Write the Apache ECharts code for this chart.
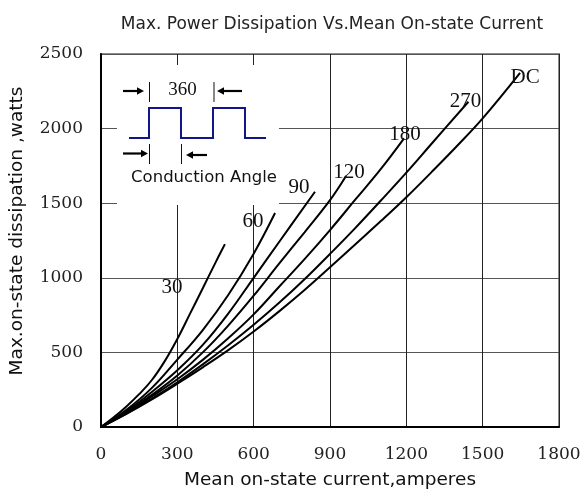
<!DOCTYPE html>
<html>
<head>
<meta charset="utf-8">
<script src="https://cdn.jsdelivr.net/npm/echarts@6/dist/echarts.min.js"></script>
<style>
  html, body { margin: 0; padding: 0; background: #fff; }
  #chart { width: 584px; height: 503px; }
</style>
</head>
<body>
<div id="chart"></div>
<script>
// Axis ticks
const currentTicks = [0, 300, 600, 900, 1200, 1500, 1800];
const powerTicks = [0, 500, 1000, 1500, 2000, 2500];

// Curves: [mean on-state current (A), max dissipation (W)] for each conduction angle
const curve30 = [[0, 0], [50, 65], [100, 138], [150, 220], [200, 315], [250, 440], [300, 590], [350, 760], [400, 930], [450, 1102], [487, 1226]];
const curve60 = [[0, 0], [100, 115], [200, 262], [300, 452], [400, 650], [500, 885], [600, 1162], [684, 1434]];
const curve90 = [[0, 0], [100, 105], [200, 235], [300, 380], [400, 550], [500, 760], [600, 1000], [700, 1240], [841, 1577]];
const curve120 = [[0, 0], [100, 100], [200, 215], [300, 345], [400, 500], [500, 680], [600, 880], [700, 1095], [800, 1305], [900, 1520], [963, 1682]];
const curve180 = [[0, 0], [100, 95], [200, 205], [300, 320], [400, 450], [500, 595], [600, 755], [700, 940], [800, 1125], [900, 1320], [1000, 1525], [1100, 1730], [1191, 1935]];
const curve270 = [[0, 0], [100, 90], [200, 190], [300, 300], [400, 420], [500, 548], [600, 685], [700, 832], [800, 990], [900, 1160], [1000, 1335], [1100, 1518], [1200, 1705], [1300, 1900], [1444, 2180]];
const curveDC = [[0, 0], [100, 88], [200, 185], [300, 290], [400, 400], [500, 515], [600, 640], [700, 775], [800, 918], [900, 1070], [1000, 1225], [1100, 1380], [1200, 1540], [1300, 1710], [1400, 1885], [1500, 2068], [1647, 2373]];

const curveNames = ['30', '60', '90', '120', '180', '270', 'DC'];
const curveData = [curve30, curve60, curve90, curve120, curve180, curve270, curveDC];
// pixel nudge of each curve's tag from the curve end
const tagOffsets = [[-53, 43], [-22, 8], [-16, -4], [3, -4], [1, -4], [-3, 0], [5, 5]];

const serif = 'Liberation Serif, Times New Roman, serif';
const numFont = 'DejaVu Serif, serif';
const sans = 'DejaVu Sans, sans-serif';

const chart = echarts.init(document.getElementById('chart'), null, { renderer: 'canvas' });

const series = curveData.map((pts, i) => ({
  name: curveNames[i],
  type: 'line',
  data: pts,
  showSymbol: false,
  smooth: 0.4,
  lineStyle: { color: '#000', width: 2 },
  z: 3,
  markPoint: {
    symbol: 'circle',
    symbolSize: 1,
    itemStyle: { color: 'rgba(0,0,0,0)' },
    silent: true,
    data: [{
      coord: pts[pts.length - 1],
      label: {
        show: true,
        position: 'inside',
        formatter: curveNames[i],
        offset: tagOffsets[i],
        color: '#111',
        fontFamily: serif,
        fontSize: 21
      }
    }]
  }
}));

// Conduction-angle sketch in the upper-left corner
const navy = '#14148a';
const ink = '#000';
function arrow(x1, x2, y) {
  const dir = x2 > x1 ? 1 : -1;
  const base = x2 - dir * 7;
  return [
    { type: 'line', z: 10, shape: { x1: x1, y1: y, x2: base, y2: y }, style: { stroke: ink, lineWidth: 2.2 } },
    { type: 'polygon', z: 10, shape: { points: [[base, y - 3.8], [x2, y], [base, y + 3.8]] }, style: { fill: ink } }
  ];
}
function tick(x, y1, y2) {
  return { type: 'line', z: 10, shape: { x1: x, y1: y1, x2: x, y2: y2 }, style: { stroke: '#111', lineWidth: 1 } };
}

const sketch = [
  { type: 'rect', z: 9, shape: { x: 117, y: 65, width: 162, height: 140 }, style: { fill: '#fff' } },
  {
    type: 'polyline', z: 10,
    shape: { points: [[129, 138], [149, 138], [149, 108], [181, 108], [181, 138], [213, 138], [213, 108], [245, 108], [245, 138], [266, 138]] },
    style: { stroke: navy, lineWidth: 2, fill: null }
  },
  tick(149.5, 82, 102), tick(214, 82, 102),
  ...arrow(123, 144, 91), ...arrow(242, 217, 91),
  { type: 'text', z: 10, style: { text: '360', x: 182.5, y: 90.5, align: 'center', verticalAlign: 'middle', font: '19px ' + serif, fill: '#111' } },
  tick(149.5, 144, 164), tick(181.5, 144, 164),
  ...arrow(123, 148, 153.5), ...arrow(207, 186, 155),
  { type: 'text', z: 10, style: { text: 'Conduction Angle', x: 204, y: 177.5, align: 'center', verticalAlign: 'middle', font: '16.5px ' + sans, fill: '#111' } }
];

const plain = v => String(v);

chart.setOption({
  animation: false,
  backgroundColor: '#fff',
  title: {
    text: 'Max. Power Dissipation Vs.Mean On-state Current',
    left: 327,
    textAlign: 'center',
    top: 11,
    textStyle: { fontFamily: sans, fontSize: 17, fontWeight: 'normal', color: '#222' }
  },
  grid: {
    left: 101, right: 25, top: 54, bottom: 76,
    show: true, borderColor: '#8c8c8c', borderWidth: 2, backgroundColor: 'transparent'
  },
  xAxis: {
    type: 'value',
    min: currentTicks[0],
    max: currentTicks[currentTicks.length - 1],
    interval: currentTicks[1] - currentTicks[0],
    name: 'Mean on-state current,amperes',
    nameLocation: 'middle',
    nameGap: 44,
    nameTextStyle: { fontFamily: sans, fontSize: 18.5, color: '#111' },
    axisLine: { show: true, lineStyle: { color: '#000', width: 2 } },
    axisTick: { show: false },
    axisLabel: { margin: 19, fontFamily: numFont, fontSize: 17, color: '#222', formatter: plain },
    splitLine: { show: true, lineStyle: { color: '#222', width: 1 } }
  },
  yAxis: {
    type: 'value',
    min: powerTicks[0],
    max: powerTicks[powerTicks.length - 1],
    interval: powerTicks[1] - powerTicks[0],
    name: 'Max.on-state dissipation ,watts',
    nameLocation: 'middle',
    nameGap: 74,
    nameTextStyle: { fontFamily: sans, fontSize: 18.5, color: '#111', padding: [0, 0, 0, 19] },
    axisLine: { show: true, lineStyle: { color: '#000', width: 2 } },
    axisTick: { show: false },
    axisLabel: { margin: 18, fontFamily: numFont, fontSize: 17, color: '#222', formatter: plain },
    splitLine: { show: true, lineStyle: { color: '#555', width: 1 } }
  },
  graphic: { elements: sketch },
  series: series
});
</script>
</body>
</html>
